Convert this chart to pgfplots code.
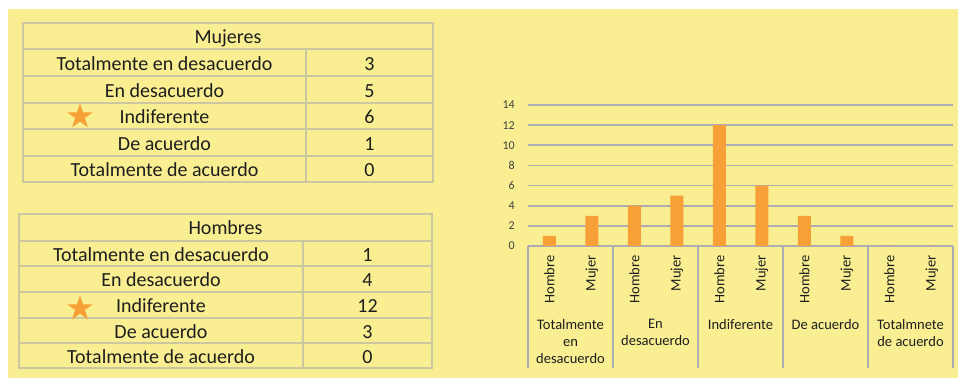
\documentclass[border=0pt]{standalone}
\usepackage{pgfplots}
\pgfplotsset{compat=1.18}
\usepackage{pgfplotstable}
\usepackage{fontspec}
\setmainfont{Carlito}
\usetikzlibrary{shapes.geometric}

\definecolor{panel}{RGB}{249,239,146}
\definecolor{barra}{RGB}{247,160,55}
\definecolor{rejilla}{RGB}{172,172,178}
\definecolor{borde}{RGB}{204,199,160}
\definecolor{texto}{RGB}{30,30,30}
\definecolor{eje}{RGB}{64,64,64}

% Respuestas por posicion en el eje (Hombre en pares, Mujer en impares)
\pgfplotstableread{
pos valor
0 1
2 4
4 12
6 3
8 0
}\hombres
\pgfplotstableread{
pos valor
1 3
3 5
5 6
7 1
9 0
}\mujeres

\newcommand{\celda}{\fontsize{15}{18}\selectfont\color{texto}}

\begin{document}
\begin{tikzpicture}
\begin{scope}[x=0.75pt,y=0.75pt]
  \fill[white] (0,0) rectangle (958,382);
  \fill[panel] (8,4) rectangle (958,373);

  % Tabla Mujeres
  \begin{scope}[draw=borde, line width=1.4pt]
    \draw (23,200) rectangle (433,359);
    \foreach \y in {333,306,279,253,226} \draw (23,\y) -- (433,\y);
    \draw (306,333) -- (306,200);
  \end{scope}
  \node[anchor=base, inner sep=0pt, font=\celda] at (228,338) {Mujeres};
  \foreach \t/\v/\y in {Totalmente en desacuerdo/3/311.5, En desacuerdo/5/284.5,
      Indiferente/6/258, De acuerdo/1/231.5, Totalmente de acuerdo/0/205} {
    \node[anchor=base, inner sep=0pt, font=\celda] at (164.5,\y) {\t};
    \node[anchor=base, inner sep=0pt, font=\celda] at (369.5,\y) {\v};
  }
  \node[star, star points=5, star point ratio=2.618, minimum size=20.25pt,
        inner sep=0pt, fill=barra] at (80,265.5) {};

  % Tabla Hombres
  \begin{scope}[draw=borde, line width=1.4pt]
    \draw (19,14) rectangle (432,168);
    \foreach \y in {141,116,90,64,39} \draw (19,\y) -- (432,\y);
    \draw (303,141) -- (303,14);
  \end{scope}
  \node[anchor=base, inner sep=0pt, font=\celda] at (225.5,147) {Hombres};
  \foreach \t/\v/\y in {Totalmente en desacuerdo/1/120.5, En desacuerdo/4/95,
      Indiferente/12/69, De acuerdo/3/43.5, Totalmente de acuerdo/0/18.5} {
    \node[anchor=base, inner sep=0pt, font=\celda] at (161,\y) {\t};
    \node[anchor=base, inner sep=0pt, font=\celda] at (367.5,\y) {\v};
  }
  \node[star, star points=5, star point ratio=2.618, minimum size=20.25pt,
        inner sep=0pt, fill=barra] at (80,73.5) {};
\end{scope}

\begin{axis}[
  at={(396pt,102pt)}, anchor=south west,
  width=318.75pt, height=105.75pt, scale only axis,
  xmin=-0.5, xmax=9.5, ymin=0, ymax=14,
  ytick={0,2,...,14},
  xtick={0,...,9},
  xticklabels={Hombre,Mujer,Hombre,Mujer,Hombre,Mujer,Hombre,Mujer,Hombre,Mujer},
  axis line style={draw=none},
  major tick length=0pt,
  ymajorgrids, grid style={rejilla, line width=1.2pt},
  /pgf/number format/assume math mode=true,
  yticklabel style={anchor=east, inner sep=0pt, xshift=-9.75pt,
    font=\fontsize{9}{10}\selectfont, text=eje},
  xticklabel style={rotate=90, anchor=east, inner sep=0pt,
    font=\fontsize{10.9}{12}\selectfont, text=texto},
  xticklabel shift=6.75pt,
]
  \addplot[ybar, bar shift=0pt, bar width=9.75pt, fill=barra, draw=none]
    table[x=pos, y=valor] {\hombres};
  \addplot[ybar, bar shift=0pt, bar width=9.75pt, fill=barra, draw=none]
    table[x=pos, y=valor] {\mujeres};
\end{axis}

\begin{scope}[x=0.75pt,y=0.75pt]
  % Separadores de categorias bajo el eje
  \foreach \x in {528,613,698,783,868,953}
    \draw[rejilla, line width=1.2pt] (\x,136) -- (\x,14);
  \foreach \x/\t in {570.5/{Totalmente\\en\\desacuerdo}, 655.5/{En\\desacuerdo},
      740.5/{Indiferente}, 825.5/{De acuerdo}, 910.5/{Totalmnete\\de acuerdo}}
    \node[anchor=north, align=center, inner sep=0pt, text=texto,
          font=\fontsize{10.9}{12.75}\selectfont] at (\x,63) {\t};
\end{scope}
\end{tikzpicture}
\end{document}
